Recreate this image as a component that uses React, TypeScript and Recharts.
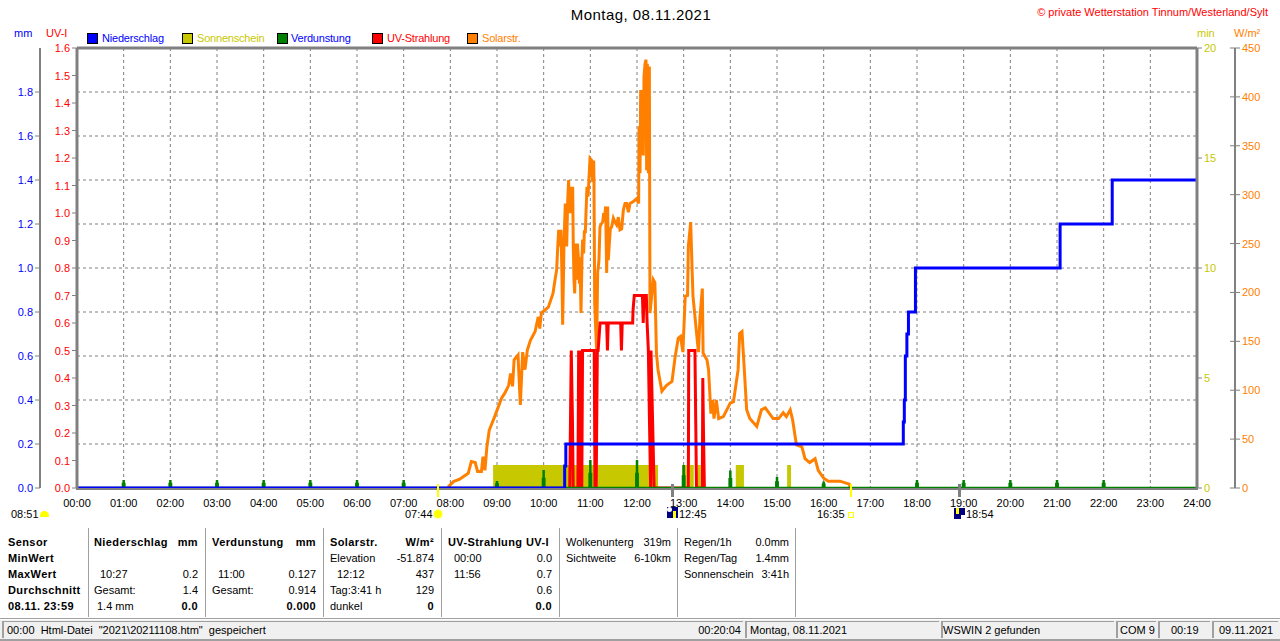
import React from "react";
import {
  ComposedChart, Line, Area, XAxis, YAxis, CartesianGrid, ReferenceLine, Legend,
} from "recharts";

const FONT = '"Liberation Sans", Arial, sans-serif';
const GRAY = "#808080";
const BLUE = "#0000ff";
const OLIVE = "#c8c800";
const GREEN = "#008000";
const RED = "#ff0000";
const ORANGE = "#ff8000";

// time axis, in minutes of the day
const hourTicks = [0, 60, 120, 180, 240, 300, 360, 420, 480, 540, 600, 660, 720, 780, 840, 900, 960, 1020, 1080, 1140, 1200, 1260, 1320, 1380, 1440];
const mmTicks = [0, 0.2, 0.4, 0.6, 0.8, 1.0, 1.2, 1.4, 1.6, 1.8];
const uvTicks = [0, 0.1, 0.2, 0.3, 0.4, 0.5, 0.6, 0.7, 0.8, 0.9, 1.0, 1.1, 1.2, 1.3, 1.4, 1.5, 1.6];
const minTicks = [0, 5, 10, 15, 20];
const wattTicks = [0, 50, 100, 150, 200, 250, 300, 350, 400, 450];

// Niederschlag (mm)
const rainTimes = [0, 627, 627, 628.5, 628.5, 1062.4, 1062.4, 1063.7, 1063.7, 1065, 1065, 1067, 1067, 1069, 1069, 1078, 1078, 1264, 1264, 1331, 1331, 1440];
const rainValues = [0, 0, 0.1, 0.1, 0.2, 0.2, 0.3, 0.3, 0.4, 0.4, 0.6, 0.6, 0.7, 0.7, 0.8, 0.8, 1.0, 1.0, 1.2, 1.2, 1.4, 1.4];

// Sonnenschein (min)
const sunTimes = [0, 535, 747, 778, 784, 788, 793, 798, 802, 847, 857.5, 913, 918, 1440];
const sunValues = [0, 1.05, 0, 1.05, 0, 1.05, 0, 1.05, 0, 1.05, 0, 1.05, 0, 0];

// Verdunstung (mm), hourly
const evapHours = [60, 120, 180, 240, 300, 360, 420, 540, 600, 660, 720, 780, 840, 900, 960, 1080, 1140, 1200, 1260, 1320];
const evapValues = [0.036, 0.036, 0.036, 0.036, 0.036, 0.036, 0.036, 0.032, 0.082, 0.127, 0.127, 0.105, 0.08, 0.05, 0.03, 0.036, 0.036, 0.036, 0.036, 0.036];

// UV-Strahlung (UV-I)
const uvTimes = [633.5, 634.5, 635.5, 637, 638, 644, 645, 646, 647, 649, 650, 665, 666, 667.5, 669, 670, 672.5, 681, 682, 683, 699, 700, 701, 714.4, 715, 716.5, 727, 728, 729, 732, 733, 734.6, 736, 737.5, 738, 740, 742, 744, 786, 786.5, 794.5, 795.5, 796.5, 804, 804.6, 805.5, 806.6];
const uvValues = [0, 0.25, 0.5, 0.25, 0, 0, 0.5, 0, 0.5, 0, 0.5, 0.5, 0, 0, 0.5, 0.5, 0.6, 0.6, 0.5, 0.6, 0.6, 0.5, 0.6, 0.6, 0.65, 0.7, 0.7, 0.6, 0.7, 0.7, 0.6, 0.5, 0.25, 0, 0.5, 0.25, 0, 0, 0, 0.5, 0.5, 0.25, 0, 0, 0.4, 0.2, 0];

// Solarstr. readings: [minute of day, W/m2]
const solarMorning: number[][] = [[477, 1], [484, 6.5], [492, 9], [503, 15], [507, 27], [512, 26], [515, 17], [520, 17], [522, 32], [524.5, 18], [527, 42], [530, 59], [537, 73], [546, 92], [550, 97], [555, 105], [557.5, 117], [560, 104], [562, 131], [567, 136], [570, 85], [573, 139], [576, 121], [579, 141], [583, 151], [589, 160], [593, 175], [595, 163], [597, 179], [606, 185], [612, 199]];
const solarMidday: number[][] = [[614.6, 213], [616.7, 223], [618, 245], [619.3, 264], [621, 247], [622.3, 264], [623.6, 213], [624.4, 167], [626.1, 248], [627.8, 291], [629.6, 247], [630.9, 294], [632.1, 315], [633.4, 281], [634.7, 308], [636, 281], [637.3, 308], [638.1, 247], [639, 213], [639.9, 199], [641.1, 250], [642.4, 213], [643.3, 250], [644.6, 236], [645.9, 209], [646.7, 236], [648, 179], [649.3, 236], [650.1, 254], [651.4, 240], [652.3, 262], [653.6, 262], [654.4, 281], [655.7, 308], [657, 298], [658.3, 317], [659.6, 337], [661.7, 335], [663, 313], [664.3, 335], [664.7, 313], [665.6, 189], [666.9, 163], [668.1, 141], [669.4, 220], [671.1, 233], [672.4, 267], [674.1, 270], [675.9, 272], [677.1, 281], [678.4, 277], [679.7, 288], [681, 220], [682.3, 288], [683.1, 233], [684.4, 250], [685.7, 265], [687.4, 267], [689.6, 276], [691.7, 272], [693.9, 269], [696, 277], [698.1, 264], [700.3, 265], [702.4, 284], [704.6, 291], [706.7, 291], [708.9, 282], [711, 291], [715.3, 293], [719.6, 296], [722.1, 291], [722.6, 370], [723.9, 322], [724.7, 407], [726, 342], [726.9, 407], [728.1, 340], [729, 421], [730.3, 434], [731.6, 438], [732.4, 325], [733.3, 434], [734.6, 322], [735.9, 431]];
const solarAfternoon: number[][] = [[736.7, 179], [741, 213], [743, 210], [745, 138], [747, 121], [752, 99], [758, 105], [765, 109], [769, 134], [773, 153], [776, 155], [779, 139], [782, 196], [785, 197], [786, 247], [789, 272], [791, 220], [792, 196], [797, 155], [799, 139], [801, 175], [804, 204], [805, 138], [810, 131], [812, 121], [815, 76], [817, 90], [819, 71], [822, 90], [825, 71], [831, 73], [840, 87], [844, 88], [850, 121], [852, 158], [855, 160], [857, 134], [861, 80], [865, 71], [874, 63], [880, 80], [885, 82], [895, 71], [902, 71], [908, 77], [912, 73], [917, 80], [920, 70], [925, 44], [932, 42], [936, 30], [942, 26], [949, 30], [953, 18], [960, 10], [966, 7], [981, 7], [993, 4], [994, 0]];

const legendItems = [
  { name: "Niederschlag", box: BLUE, text: BLUE, x: 87, tx: 102 },
  { name: "Sonnenschein", box: OLIVE, text: OLIVE, x: 182, tx: 197 },
  { name: "Verdunstung", box: GREEN, text: BLUE, x: 277, tx: 291 },
  { name: "UV-Strahlung", box: RED, text: RED, x: 372, tx: 387 },
  { name: "Solarstr.", box: ORANGE, text: ORANGE, x: 467, tx: 482 },
];

// bottom table: [text, x, row y, align, bold]
type Cell = [string, number, number, ("l" | "r")?, boolean?];
const tableCells: Cell[] = [
  ["Sensor", 8, 542, "l", true], ["MinWert", 8, 558, "l", true], ["MaxWert", 8, 574, "l", true], ["Durchschnitt", 8, 590, "l", true], ["08.11. 23:59", 8, 606, "l", true],
  ["Niederschlag", 94, 542, "l", true], ["mm", 198, 542, "r", true], ["10:27", 100, 574], ["0.2", 198, 574, "r"], ["Gesamt:", 94, 590], ["1.4", 198, 590, "r"], ["1.4 mm", 97, 606], ["0.0", 198, 606, "r", true],
  ["Verdunstung", 212, 542, "l", true], ["mm", 316, 542, "r", true], ["11:00", 218, 574], ["0.127", 316, 574, "r"], ["Gesamt:", 212, 590], ["0.914", 316, 590, "r"], ["0.000", 316, 606, "r", true],
  ["Solarstr.", 330, 542, "l", true], ["W/m²", 434, 542, "r", true], ["Elevation", 330, 558], ["-51.874", 434, 558, "r"], ["12:12", 337, 574], ["437", 434, 574, "r"], ["Tag:3:41 h", 330, 590], ["129", 434, 590, "r"], ["dunkel", 330, 606], ["0", 434, 606, "r", true],
  ["UV-Strahlung UV-I", 448, 542, "l", true], ["00:00", 454, 558], ["0.0", 552, 558, "r"], ["11:56", 454, 574], ["0.7", 552, 574, "r"], ["0.6", 552, 590, "r"], ["0.0", 552, 606, "r", true],
  ["Wolkenunterg", 566, 542], ["319m", 671, 542, "r"], ["Sichtweite", 566, 558], ["6-10km", 671, 558, "r"],
  ["Regen/1h", 684, 542], ["0.0mm", 789, 542, "r"], ["Regen/Tag", 684, 558], ["1.4mm", 789, 558, "r"], ["Sonnenschein", 684, 574], ["3:41h", 789, 574, "r"],
];
const separators = [88, 205, 323, 441, 559, 677, 795];
const statusCells: Cell[] = [
  ['00:00  Html-Datei  "2021\\20211108.htm"  gespeichert', 7, 630],
  ["00:20:04", 741, 630, "r"], ["Montag, 08.11.2021", 750, 630], ["WSWIN 2 gefunden", 943, 630], ["COM 9", 1120, 630], ["00:19", 1171, 630], ["09.11.2021", 1219, 630],
];
const statusBoxes = [[2, 743], [745, 939], [941, 1114], [1116, 1156], [1158, 1210], [1212, 1278]];
const astroLabels: Cell[] = [["08:51", 11, 514], ["07:44", 405, 514], ["12:45", 679, 514], ["16:35", 817, 514], ["18:54", 966, 514]];

const zip = (ts: number[], vs: number[]) => ts.map((t, i) => ({ t, v: vs[i] }));
const rainData = zip(rainTimes, rainValues);
const sunData = zip(sunTimes, sunValues);
const uvData = zip(uvTimes, uvValues);
const solarData = [...solarMorning, ...solarMidday, ...solarAfternoon].map(([t, v]) => ({ t, v }));
const evapData = [
  { t: 0, v: 0 },
  ...evapHours.flatMap((h, i) => {
    const v = evapValues[i];
    return [
      { t: h - 0.9, v: 0 }, { t: h - 0.9, v: v / 2 }, { t: h, v: v / 2 }, { t: h, v },
      { t: h, v: v / 2 }, { t: h + 0.9, v: v / 2 }, { t: h + 0.9, v: 0 },
    ];
  }),
  { t: 1440, v: 0 },
];

const hhmm = (m: number) => `${String(m / 60).padStart(2, "0")}:00`;

function YTick(props: any) {
  const { x, y, payload, fill, side, both, fmt } = props;
  const dir = side === "left" ? -1 : 1;
  const base = x - dir * 8;
  return (
    <g>
      <line x1={base} x2={base + dir * 5} y1={y} y2={y} stroke={GRAY} />
      {both && <line x1={base} x2={base - 5} y1={y} y2={y} stroke={GRAY} />}
      <text x={base + dir * 7} y={y + 4} textAnchor={side === "left" ? "end" : "start"} fontSize={11} fontFamily={FONT} fill={fill}>
        {fmt ? fmt(payload.value) : payload.value}
      </text>
    </g>
  );
}

const Txt = ({ c, color = "#000", size = 11 }: { c: Cell; color?: string; size?: number }) => (
  <span
    style={{
      position: "absolute", top: c[2] - 8, height: 16, lineHeight: "16px",
      ...(c[3] === "r" ? { right: 1280 - c[1] } : { left: c[1] }),
      fontFamily: FONT, fontSize: size, fontWeight: c[4] ? 700 : 400, letterSpacing: c[4] ? 0.4 : 0, color, whiteSpace: "pre",
    }}
  >
    {c[0]}
  </span>
);

const LegendContent = () => (
  <div style={{ position: "relative", width: 1280, height: 20 }}>
    {legendItems.map((it) => (
      <React.Fragment key={it.name}>
        <span style={{ position: "absolute", left: it.x, top: 3, width: 9, height: 9, background: it.box, border: "1px solid #000" }} />
        <span style={{ position: "absolute", left: it.tx, top: 0, lineHeight: "16px", fontFamily: FONT, fontSize: 11, letterSpacing: -0.2, color: it.text, whiteSpace: "pre" }}>{it.name}</span>
      </React.Fragment>
    ))}
  </div>
);

export default function App() {
  return (
    <div style={{ position: "absolute", left: 0, top: 0, width: 1280, height: 641, background: "#fff", overflow: "hidden" }}>
      <ComposedChart width={1280} height={641} margin={{ top: 48, right: 0, bottom: 0, left: 0 }}>
        <CartesianGrid yAxisId="mm" xAxisId="x" stroke={GRAY} strokeDasharray="3 3" />
        <XAxis
          xAxisId="x" dataKey="t" type="number" domain={[0, 1440]} ticks={hourTicks} interval={0}
          tickFormatter={hhmm} height={153} tickLine={false} tickMargin={5}
          axisLine={false}
          tick={{ fontSize: 11, fontFamily: FONT, fill: "#000" }} allowDuplicatedCategory
        />
        <YAxis yAxisId="mm" orientation="left" width={40} domain={[0, 2]} ticks={mmTicks} type="number"
          axisLine={{ stroke: GRAY, strokeWidth: 2 }} tickLine={false}
          tick={<YTick side="left" fill={BLUE} fmt={(v: number) => v.toFixed(1)} />} interval={0} />
        <YAxis yAxisId="aUv" orientation="left" width={37} domain={[0, 1.6]} ticks={uvTicks} type="number"
          axisLine={{ stroke: GRAY, strokeWidth: 3 }} tickLine={false}
          tick={<YTick side="left" fill={RED} fmt={(v: number) => v.toFixed(1)} />} interval={0} />
        <YAxis yAxisId="min" orientation="right" width={38} domain={[0, 20]} ticks={minTicks} type="number"
          axisLine={{ stroke: GRAY, strokeWidth: 3 }} tickLine={false}
          tick={<YTick side="right" fill={OLIVE} />} interval={0} />
        <YAxis yAxisId="watt" orientation="right" width={45} domain={[0, 450]} ticks={wattTicks} type="number"
          axisLine={{ stroke: GRAY, strokeWidth: 2 }} tickLine={false}
          tick={<YTick side="right" both fill={ORANGE} />} interval={0} />
        <ReferenceLine xAxisId="x" yAxisId="mm" y={2} stroke={GRAY} strokeWidth={3} />
        <Legend verticalAlign="middle" content={<LegendContent />} wrapperStyle={{ position: "absolute", left: 0, top: 30, width: 1280, height: 20 }} />

        <Area xAxisId="x" yAxisId="min" data={sunData} dataKey="v" name="Sonnenschein" type="stepAfter" stroke="none" fill={OLIVE} fillOpacity={1} dot={false} isAnimationActive={false} />
        <Line xAxisId="x" yAxisId="watt" data={solarData} dataKey="v" name="Solarstr." type="linear" stroke={ORANGE} strokeWidth={3} dot={false} isAnimationActive={false} />
        <Line xAxisId="x" yAxisId="aUv" data={uvData} dataKey="v" name="UV-Strahlung" type="linear" stroke={RED} strokeWidth={3} dot={false} isAnimationActive={false} />
        <Line xAxisId="x" yAxisId="mm" data={evapData} dataKey="v" name="Verdunstung" type="linear" stroke={GREEN} strokeWidth={2.5} dot={false} isAnimationActive={false} />
        <Line xAxisId="x" yAxisId="mm" data={rainData} dataKey="v" name="Niederschlag" type="linear" stroke={BLUE} strokeWidth={3} dot={false} isAnimationActive={false} />
      </ComposedChart>

      {/* bottom frame of the plot */}
      <div style={{ position: "absolute", left: 76, top: 488, width: 1122, height: 2, background: GRAY }} />

      {/* headings */}
      <div style={{ position: "absolute", left: 0, width: 1282, top: 6, textAlign: "center", fontFamily: FONT, fontSize: 15, letterSpacing: 0.45, lineHeight: "18px" }}>Montag, 08.11.2021</div>
      <div style={{ position: "absolute", right: 12, top: 4, fontFamily: FONT, fontSize: 11, lineHeight: "16px", color: RED, whiteSpace: "pre" }}>© private Wetterstation Tinnum/Westerland/Sylt</div>
      <Txt c={["mm", 14, 33]} color={BLUE} />
      <Txt c={["UV-I", 46, 33]} color={RED} />
      <Txt c={["min", 1197, 33]} color={OLIVE} />
      <Txt c={["W/m²", 1234, 33]} color={ORANGE} />

      {/* sun and moon markers */}
      <div style={{ position: "absolute", left: 437, top: 484, width: 2, height: 13, background: "#ffff00" }} />
      <div style={{ position: "absolute", left: 850, top: 484, width: 2, height: 13, background: "#ffff00" }} />
      <div style={{ position: "absolute", left: 671, top: 484, width: 3, height: 13, background: GRAY }} />
      <div style={{ position: "absolute", left: 958, top: 484, width: 3, height: 13, background: GRAY }} />
      {astroLabels.map((c, i) => <Txt key={i} c={c} />)}
      <div style={{ position: "absolute", left: 40, top: 511, width: 9, height: 6, borderRadius: "5px 5px 0 0", background: "#ffff00" }} />
      <div style={{ position: "absolute", left: 434, top: 510, width: 8, height: 8, borderRadius: 4, background: "#ffff00", boxShadow: "0 0 2px 1px #ffffa0" }} />
      <div style={{ position: "absolute", left: 667, top: 507, width: 11, height: 11, background: "#000080" }} />
      <div style={{ position: "absolute", left: 667, top: 507, width: 5, height: 5, borderRadius: 3, background: "#ffffff" }} />
      <div style={{ position: "absolute", left: 673, top: 511, width: 3, height: 7, background: "#ffff00" }} />
      <div style={{ position: "absolute", left: 848, top: 512, width: 4, height: 4, border: "1px solid #ffff00" }} />
      <div style={{ position: "absolute", left: 954, top: 508, width: 11, height: 11, background: "#000080" }} />
      <div style={{ position: "absolute", left: 956, top: 508, width: 3, height: 6, background: "#ffff00" }} />
      <div style={{ position: "absolute", left: 961, top: 515, width: 4, height: 4, background: "#ffffff" }} />

      {/* data table */}
      {separators.map((x) => (
        <div key={x} style={{ position: "absolute", left: x, top: 528, width: 1, height: 89, background: "#a0a0a0" }} />
      ))}
      {tableCells.map((c, i) => <Txt key={i} c={c} />)}

      {/* status bar */}
      <div style={{ position: "absolute", left: 0, top: 618, width: 1280, height: 1, background: "#a0a0a0" }} />
      <div style={{ position: "absolute", left: 0, top: 620, width: 1280, height: 21, background: "#f0f0f0" }} />
      {statusBoxes.map(([a, b]) => (
        <div key={a} style={{ position: "absolute", left: a, top: 621, width: b - a, height: 17, boxSizing: "border-box", borderLeft: "2px solid #a0a0a0", borderTop: "1px solid #a0a0a0" }} />
      ))}
      <div style={{ position: "absolute", left: 0, top: 639, width: 1280, height: 2, background: "#a0a0a0" }} />
      {statusCells.map((c, i) => <Txt key={i} c={c} />)}
    </div>
  );
}
